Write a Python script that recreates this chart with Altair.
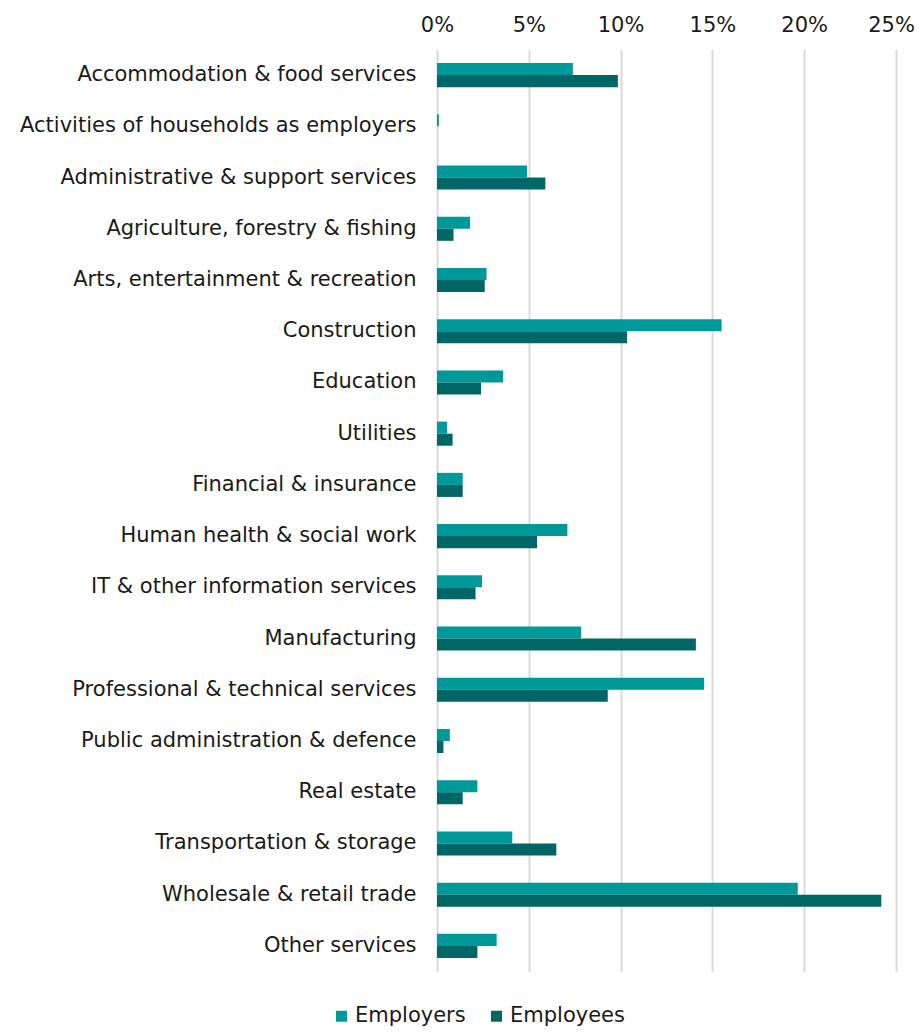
import altair as alt
import pandas as pd

categories = [
    "Accommodation & food services",
    "Activities of households as employers",
    "Administrative & support services",
    "Agriculture, forestry & fishing",
    "Arts, entertainment & recreation",
    "Construction",
    "Education",
    "Utilities ",
    "Financial & insurance",
    "Human health & social work",
    "IT & other information services",
    "Manufacturing",
    "Professional & technical services",
    "Public administration & defence",
    "Real estate ",
    "Transportation & storage",
    "Wholesale & retail trade",
    "Other services",
]
employers = [7.4, 0.1, 4.9, 1.8, 2.7, 15.5, 3.6, 0.55, 1.4, 7.1, 2.45, 7.85, 14.55, 0.7, 2.2, 4.1, 19.65, 3.25]
employees = [9.85, 0.0, 5.9, 0.9, 2.6, 10.35, 2.4, 0.85, 1.4, 5.45, 2.1, 14.1, 9.3, 0.35, 1.4, 6.5, 24.2, 2.2]
series = ["Employers", "Employees"]
colors = ["#009999", "#006666"]
tick_values = [0, 0.05, 0.10, 0.15, 0.20, 0.25]

rows = []
for c, a, b in zip(categories, employers, employees):
    rows.append({"Sector": c, "Series": series[0], "Value": a / 100})
    rows.append({"Sector": c, "Series": series[1], "Value": b / 100})
df = pd.DataFrame(rows)

FONT = "DejaVu Sans"
FS = 21

chart = alt.Chart(df).mark_bar().encode(
    y=alt.Y("Sector:N", sort=categories, title=None,
            scale=alt.Scale(paddingInner=0.53, paddingOuter=0.265),
            axis=alt.Axis(ticks=False, domain=False, labelPadding=21,
                          labelLimit=600, labelFontSize=FS, labelFont=FONT,
                          labelColor="#1a1a1a", grid=False)),
    yOffset=alt.YOffset("Series:N", sort=series),
    x=alt.X("Value:Q", title=None,
            scale=alt.Scale(domain=[0, 0.25], nice=False),
            axis=alt.Axis(orient="top", format=".0%", values=tick_values,
                          ticks=False, domain=False, labelPadding=14, labelFlush=False,
                          labelOffset={"condition": {"test": "datum.value >= 0.249", "value": -5}, "value": 0},
                          labelFontSize=FS, labelFont=FONT, labelColor="#1a1a1a",
                          grid=True, gridColor="#d9d9d9", gridWidth=2)),
    color=alt.Color("Series:N", sort=series,
                    scale=alt.Scale(domain=series, range=colors),
                    legend=alt.Legend(orient="none", legendX=-106, legendY=956,
                                      direction="horizontal", title=None,
                                      symbolType="square", symbolSize=121,
                                      symbolStrokeWidth=0, labelOffset=3,
                                      labelFontSize=FS, labelFont=FONT, labelColor="#1a1a1a",
                                      columnPadding=20)),
).properties(
    width=459,
    height=922,
    autosize=alt.AutoSizeParams(type="none"),
    padding={"left": 429, "right": 20, "top": 41.5, "bottom": 55},
).configure_view(stroke=None)

chart.save("out.html", embed_options={"renderer": "svg", "actions": False})
